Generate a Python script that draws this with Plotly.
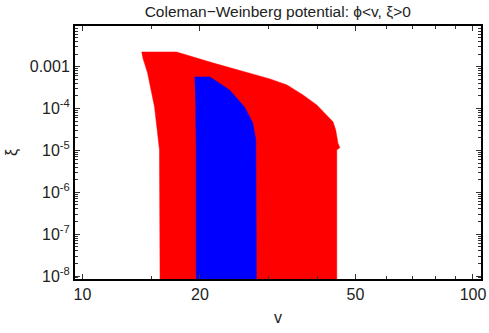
"""Coleman-Weinberg potential allowed region (phi<v, xi>0)."""

import plotly.graph_objects as go

# red region outline (v, xi), clockwise from top-left
red_v = [14.17, 17.42, 21.54, 26.8, 30.2, 33.4, 36.7, 39.8, 42.2, 43.8, 44.5, 45.1,
         45.6, 44.8, 44.8, 15.82, 15.75, 15.57, 15.30, 14.68, 14.25]
red_xi = [2.24e-3, 2.24e-3, 1.23e-3, 7.1e-4, 5.1e-4, 3.66e-4, 2.11e-4, 1.22e-4, 7.0e-5,
          4.8e-5, 3.1e-5, 1.51e-5, 1.15e-5, 1.03e-5, 1e-9, 1e-9, 1.03e-5, 2.62e-5,
          1.09e-4, 7.1e-4, 1.71e-3]

# blue region outline
blue_v = [19.37, 21.2, 23.8, 26.0, 27.3, 27.8, 27.9, 19.56, 19.56, 19.5]
blue_xi = [5.68e-4, 5.68e-4, 2.78e-4, 1.09e-4, 4.5e-5, 1.78e-5, 1e-9, 1e-9, 1.03e-5, 9.2e-5]

x_ticks = [10, 20, 50, 100]
x_minor = [15, 30, 40, 60, 70, 80, 90]
y_ticks = [1e-8, 1e-7, 1e-6, 1e-5, 1e-4, 1e-3]
y_labels = ["10<sup>-8</sup>", "10<sup>-7</sup>", "10<sup>-6</sup>", "10<sup>-5</sup>",
            "10<sup>-4</sup>", "0.001"]
y_minor = [m * 10.0 ** e for e in range(-9, -2) for m in range(2, 10)]

FONT = "Liberation Sans, Arial, sans-serif"
INK = "#222"

fig = go.Figure()
fig.add_trace(go.Scatter(x=red_v, y=red_xi, fill="toself", mode="lines",
                         fillcolor="#ff0000", line=dict(color="#ff0000", width=0.5),
                         hoverinfo="skip", showlegend=False))
fig.add_trace(go.Scatter(x=blue_v, y=blue_xi, fill="toself", mode="lines",
                         fillcolor="#0000ff", line=dict(color="#0000ff", width=0.5),
                         hoverinfo="skip", showlegend=False))

axis_common = dict(
    showgrid=False, zeroline=False, showline=True, linecolor="black", linewidth=2,
    mirror="allticks", ticks="inside", ticklen=5, tickwidth=1, tickcolor="#333",
    tickfont=dict(size=16, color=INK), automargin=False, ticklabeloverflow="allow",
)
fig.update_xaxes(
    type="log", range=[0.981, 2.0205], tickvals=x_ticks, ticktext=[str(t) for t in x_ticks],
    minor=dict(tickvals=x_minor, ticks="inside", ticklen=3, tickcolor="#333"),
    title=dict(text="v", font=dict(size=16, color=INK), standoff=10),
    **axis_common,
)
fig.update_yaxes(
    type="log", range=[-8.07, -2.03], tickvals=y_ticks, ticktext=y_labels,
    minor=dict(tickvals=y_minor, ticks="inside", ticklen=3, tickcolor="#333"),
    title=dict(text="ξ", font=dict(size=16, color=INK), standoff=8),
    **axis_common,
)
fig.update_layout(
    width=489, height=333,
    margin=dict(l=75, r=8, t=26, b=54, autoexpand=False),
    plot_bgcolor="white", paper_bgcolor="white",
    font=dict(family=FONT, color=INK),
    title=dict(text="Coleman\u2212Weinberg potential: \u03d5<v, \u03be>0",
               x=0.568, xanchor="center", y=0.964, yanchor="middle",
               font=dict(size=15.5, color=INK), automargin=False),
)
# the page body has a default 8px margin; drop it so the figure sits at the window origin
fig.write_html("out.html", config={"displayModeBar": False},
               post_script="document.body.style.margin='0';")
